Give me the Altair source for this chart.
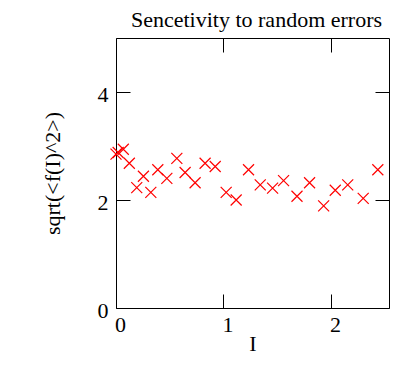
import altair as alt
import pandas as pd

I_vals = [0.0, 0.02, 0.068, 0.124, 0.193, 0.255, 0.324, 0.389, 0.473, 0.566, 0.643,
          0.736, 0.829, 0.923, 1.025, 1.118, 1.233, 1.342, 1.457, 1.559, 1.684,
          1.801, 1.932, 2.04, 2.156, 2.30, 2.436]
f_vals = [2.85, 2.88, 2.94, 2.68, 2.23, 2.44, 2.14, 2.56, 2.40, 2.77, 2.51,
          2.32, 2.68, 2.62, 2.14, 2.00, 2.56, 2.28, 2.22, 2.36, 2.07,
          2.32, 1.89, 2.18, 2.28, 2.03, 2.56]
x_ticks = [0, 1, 2]
y_ticks = [0, 2, 4]

df = pd.DataFrame({"I": I_vals, "f": f_vals})

W, H = 273, 270
FONT = "Liberation Serif"
FS = 22
xs = alt.Scale(domain=[0, 2.54], nice=False, zero=False)
ys = alt.Scale(domain=[0, 5], nice=False)
XPATH = "M-1,-1L1,1M1,-1L-1,1"

main = alt.Chart(df).mark_point(
    shape=XPATH, filled=False, stroke="#ff0000", strokeWidth=1.2, size=121, opacity=1
).encode(
    x=alt.X("I:Q", scale=xs, axis=alt.Axis(
        values=x_ticks, ticks=False, tickSize=0, domain=False, grid=False,
        labelFont=FONT, labelFontSize=FS, labelColor="black", labelPadding=6,
        labelOffset=4, labelFlush=False,
        title="I", titleFont=FONT, titleFontSize=FS, titleFontWeight="normal",
        titleColor="black", titlePadding=-2)),
    y=alt.Y("f:Q", scale=ys, axis=alt.Axis(
        values=y_ticks, ticks=False, tickSize=0, domain=False, grid=False,
        labelFont=FONT, labelFontSize=FS, labelColor="black", labelPadding=8,
        labelOffset=2, labelFlush=False,
        title="sqrt(<f(I)^2>)", titleFont=FONT, titleFontSize=FS, titleFontWeight="normal",
        titleColor="black", titlePadding=33)),
)

ax2 = alt.Axis(orient="top", offset=-H, labels=False, title=None, domain=False,
               grid=False, ticks=True, tickSize=14, tickColor="black", values=x_ticks)
ay2 = alt.Axis(orient="right", offset=-W, labels=False, title=None, domain=False,
               grid=False, ticks=True, tickSize=14, tickColor="black", values=y_ticks)
ax3 = alt.Axis(orient="bottom", offset=-H, labels=False, title=None, domain=False,
               grid=False, ticks=True, tickSize=14, tickColor="black", values=x_ticks)
ay3 = alt.Axis(orient="left", offset=-W, labels=False, title=None, domain=False,
               grid=False, ticks=True, tickSize=14, tickColor="black", values=y_ticks)

l2 = alt.Chart(df).mark_point(opacity=0).encode(
    x=alt.X("I:Q", scale=xs, axis=ax2), y=alt.Y("f:Q", scale=ys, axis=ay2))
l3 = alt.Chart(df).mark_point(opacity=0).encode(
    x=alt.X("I:Q", scale=xs, axis=ax3), y=alt.Y("f:Q", scale=ys, axis=ay3))

chart = alt.layer(l2, l3, main).resolve_axis(x="independent", y="independent").properties(
    width=W, height=H,
    title=alt.TitleParams("Sencetivity to random errors", font=FONT, fontSize=FS,
                          fontWeight="normal", color="black", offset=6,
                          anchor="middle", dx=4),
    autosize=alt.AutoSizeParams(type="none"),
    padding={"left": 108, "top": 30, "right": 1, "bottom": 47},
).configure(background="white").configure_view(stroke="black", strokeWidth=1)

chart.save("out.html", embed_options={"renderer": "svg", "actions": False})
